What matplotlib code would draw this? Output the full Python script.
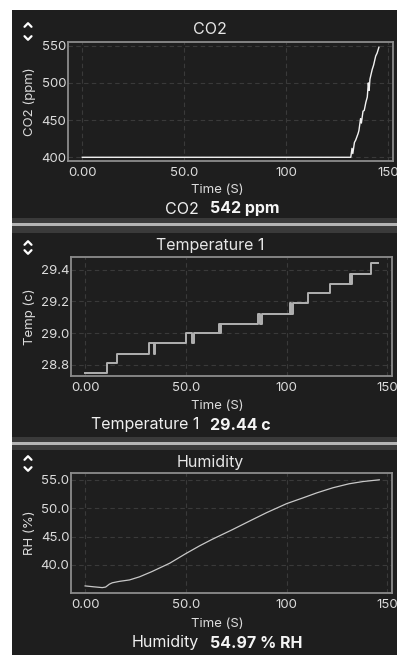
import matplotlib
matplotlib.use("Agg")
import matplotlib.pyplot as plt
from matplotlib.lines import Line2D
from matplotlib.patches import Rectangle

plt.rcParams['font.family'] = ['Inter', 'DejaVu Sans']

# ---------------- data ----------------
co2_time = [0, 131.6, 132.2, 132.6, 133.4, 134.0, 135.2, 135.6, 136.4, 136.8, 137.6,
            138.2, 139.0, 139.7, 140.2, 140.6, 141.0, 142.1, 142.8, 143.8, 144.5, 145.4]
co2_ppm = [400, 400, 412, 405, 420, 423, 432, 436, 452, 446, 462,
           463, 474, 481, 500, 490, 505, 518, 524, 536, 540, 548]

temp_time = [0, 10.7, 16.0, 31.6, 34.0, 34.6, 50.3, 53.2, 53.8, 66.2, 67.0, 67.6,
             86.0, 86.8, 87.6, 101.7, 102.4, 103.0, 110.5, 121.7, 131.3, 132.0, 132.6,
             141.8, 145.5]
temp_c = [28.75, 28.81, 28.87, 28.94, 28.87, 28.94, 29.00, 28.94, 29.00, 29.06, 29.00, 29.06,
          29.12, 29.06, 29.12, 29.19, 29.12, 29.19, 29.25, 29.31, 29.37, 29.31, 29.37,
          29.44, 29.44]

rh_time = [0, 4, 8.5, 10.2, 12.0, 13.5, 17, 22, 27, 33, 42, 50, 57, 63, 73, 82, 90,
           100, 108, 115, 123, 131, 138, 146]
rh_pct = [36.3, 36.15, 36.0, 36.1, 36.6, 36.85, 37.1, 37.35, 37.9, 38.8, 40.3, 42.0,
          43.4, 44.5, 46.2, 47.8, 49.2, 50.8, 51.8, 52.7, 53.6, 54.3, 54.7, 55.0]

titles = ["CO2", "Temperature 1", "Humidity"]
ylabels = ["CO2 (ppm)", "Temp (c)", "RH (%)"]
value_names = ["CO2", "Temperature 1", "Humidity"]
value_texts = ["542 ppm", "29.44 c", "54.97 % RH"]
x_ticks = [0, 50, 100, 150]
x_ticklabels = ["0.00", "50.0", "100", "150"]
y_ticks = [[400, 450, 500, 550], [28.8, 29.0, 29.2, 29.4], [40, 45, 50, 55]]
y_ticklabels = [["400", "450", "500", "550"], ["28.8", "29.0", "29.2", "29.4"],
                ["40.0", "45.0", "50.0", "55.0"]]
y_lims = [(395, 555), (28.73, 29.48), (35.05, 56.2)]
x_lim = (-7, 152.3)

# ---------------- layout ----------------
W, H = 397, 655
BG = "#1e1e1e"
FG = "#e6e6e6"

def fx(p):
    return p / W

def fy(p):
    return 1 - p / H

fig = plt.figure(figsize=(W / 100, H / 100), dpi=100, facecolor="white")
fig.patches.append(Rectangle((fx(12), 0), 1 - fx(12), fy(10), transform=fig.transFigure,
                             facecolor=BG, edgecolor="none", zorder=-10))
# separators between panels
for top, bot, ltop, lbot in [(218, 233, 223, 226), (437, 450, 442, 444.5)]:
    fig.patches.append(Rectangle((fx(12), fy(bot)), 1 - fx(12), (bot - top) / H,
                                 transform=fig.transFigure, facecolor="#3a3a3a",
                                 edgecolor="none", zorder=-9))
    fig.patches.append(Rectangle((fx(12), fy(lbot)), 1 - fx(12), (lbot - ltop) / H,
                                 transform=fig.transFigure, facecolor="#b4b4b4",
                                 edgecolor="none", zorder=-8))

boxes = [(68, 42, 393, 161), (71, 257, 392, 376), (71, 473, 392, 593)]
title_y = [30, 245, 462]
xlabel_y = [190, 406, 624]
value_y = [209, 425, 643]
chev = [(25, 38), (243, 252), (458, 469)]
ylabel_x = 30

series = [(co2_time, co2_ppm, dict(color="#f2f2f2", lw=1.0)),
          (temp_time, temp_c, dict(color="#b0b0b0", lw=1.4, drawstyle="steps-post")),
          (rh_time, rh_pct, dict(color="#c8c8c8", lw=0.9))]

for i in range(3):
    l, t, r, b = boxes[i]
    ax = fig.add_axes([fx(l), fy(b), (r - l) / W, (b - t) / H])
    ax.set_facecolor(BG)
    xs, ys, kw = series[i]
    ax.plot(xs, ys, **kw)
    ax.set_xlim(*x_lim)
    ax.set_ylim(*y_lims[i])
    ax.set_xticks(x_ticks)
    ax.set_xticklabels(x_ticklabels)
    ax.set_yticks(y_ticks[i])
    ax.set_yticklabels(y_ticklabels[i])
    ax.tick_params(axis="both", length=0, labelsize=9.5, labelcolor="#dcdcdc")
    ax.tick_params(axis="x", pad=4)
    ax.tick_params(axis="y", pad=1.2)
    ax.grid(True, color="#3a3a3a", linestyle=(0, (4, 3)), linewidth=0.8)
    for s in ax.spines.values():
        s.set_color("#8c8c8c")
        s.set_linewidth(1.3)
    # axis labels
    ax.set_xlabel("Time (S)", fontsize=9.5, color="#dcdcdc", va="center")
    ax.xaxis.set_label_coords((217 - l) / (r - l), (b - xlabel_y[i]) / (b - t))
    ax.set_ylabel(ylabels[i], fontsize=9.5, color="#dcdcdc", va="center")
    ax.yaxis.set_label_coords((ylabel_x - l) / (r - l), 0.5)
    # title
    fig.text(fx(210), fy(title_y[i]), titles[i], ha="center", va="center",
             fontsize=11.5, color=FG)
    # value line
    fig.text(fx(199), fy(value_y[i]), value_names[i], ha="right", va="center",
             fontsize=11.5, color="#f0f0f0")
    fig.text(fx(210), fy(value_y[i]), value_texts[i], ha="left", va="center",
             fontsize=11.5, color="#f5f5f5", fontweight="bold")
    # up / down chevrons
    uy, dy = chev[i]
    cx = 28
    fig.add_artist(Line2D([fx(cx - 3.5), fx(cx), fx(cx + 3.5)],
                          [fy(uy + 1.8), fy(uy - 1.8), fy(uy + 1.8)],
                          transform=fig.transFigure, color="white", lw=1.6,
                          solid_capstyle="round", solid_joinstyle="round"))
    fig.add_artist(Line2D([fx(cx - 3.5), fx(cx), fx(cx + 3.5)],
                          [fy(dy - 1.8), fy(dy + 1.8), fy(dy - 1.8)],
                          transform=fig.transFigure, color="white", lw=1.6,
                          solid_capstyle="round", solid_joinstyle="round"))

fig.savefig("out.png", dpi=100, facecolor="white")
